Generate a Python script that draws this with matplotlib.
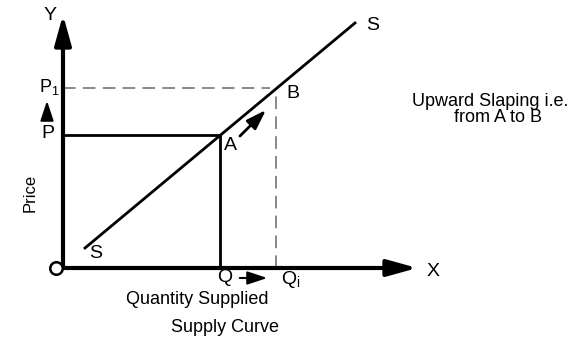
import numpy as np
import matplotlib.pyplot as plt

# supply curve drawn in picture units (x right, y up), origin at O
supply_q = [22, 292]
supply_p = [20, 245]
qA, pA = 157, 133
qB, pB = 213, 180
x_end, y_end = 357, 256

plt.rcParams['font.family'] = ['Liberation Sans', 'DejaVu Sans']

fig = plt.figure(figsize=(5.76, 3.45), dpi=100)
ax = fig.add_axes([0, 0, 1, 1])
ax.set_xlim(-63, 513)
ax.set_ylim(-77, 268)
ax.axis('off')

# axes
ax.annotate('', xy=(x_end, 0), xytext=(-1, 0),
            arrowprops=dict(arrowstyle='-|>,head_length=1.8,head_width=0.5', lw=3, color='black'))
ax.annotate('', xy=(0, y_end), xytext=(0, -1),
            arrowprops=dict(arrowstyle='-|>,head_length=1.8,head_width=0.5', lw=3, color='black'))
ax.plot(-7, 0, 'o', ms=9, mfc='white', mec='black', mew=1.8, zorder=5)

# supply curve
ax.plot(supply_q, supply_p, color='black', lw=2)

# point A guides
ax.plot([0, qA], [pA, pA], color='black', lw=2)
ax.plot([qA, qA], [0, pA], color='black', lw=2)
# point B guides
ax.plot([0, qB - 6], [pB, pB], color='gray', lw=1.3, dashes=(7, 4))
ax.plot([qB, qB], [0, pB - 7], color='gray', lw=1.3, dashes=(7, 4))

# movement arrows
ax.annotate('', xy=(205, 160), xytext=(175, 130),
            arrowprops=dict(arrowstyle='-|>,head_length=1.2,head_width=0.4', lw=2, color='black'))
ax.annotate('', xy=(207, -10), xytext=(174, -10),
            arrowprops=dict(arrowstyle='-|>,head_length=1.2,head_width=0.4', lw=1.5, color='black'))
ax.annotate('', xy=(-16, 170), xytext=(-16, 150),
            arrowprops=dict(arrowstyle='-|>,head_length=1.2,head_width=0.4', lw=1.5, color='black'))

fs = 14
ax.text(-13, 253, 'Y', fontsize=fs, ha='center', va='center')
ax.text(370, -3, 'X', fontsize=fs, ha='center', va='center')
ax.text(-14, 181, 'P$_\\mathregular{1}$', fontsize=13, ha='center', va='center')
ax.text(-15, 134, 'P', fontsize=fs, ha='center', va='center')
ax.text(-33, 75, 'Price', fontsize=12, rotation=90, ha='center', va='center')
ax.text(33, 14, 'S', fontsize=fs, ha='center', va='center')
ax.text(310, 242, 'S', fontsize=fs, ha='center', va='center')
ax.text(167, 122, 'A', fontsize=fs, ha='center', va='center')
ax.text(230, 175, 'B', fontsize=fs, ha='center', va='center')
ax.text(162, -10, 'Q', fontsize=fs, ha='center', va='center')
ax.text(228, -12, 'Q$_\\mathregular{i}$', fontsize=fs, ha='center', va='center')
ax.text(134, -32, 'Quantity Supplied', fontsize=13, ha='center', va='center')
ax.text(162, -60, 'Supply Curve', fontsize=13, ha='center', va='center')
ax.text(427, 166, 'Upward Slaping i.e.', fontsize=13, ha='center', va='center')
ax.text(435, 150, 'from A to B', fontsize=13, ha='center', va='center')

fig.savefig('out.png', dpi=100)
